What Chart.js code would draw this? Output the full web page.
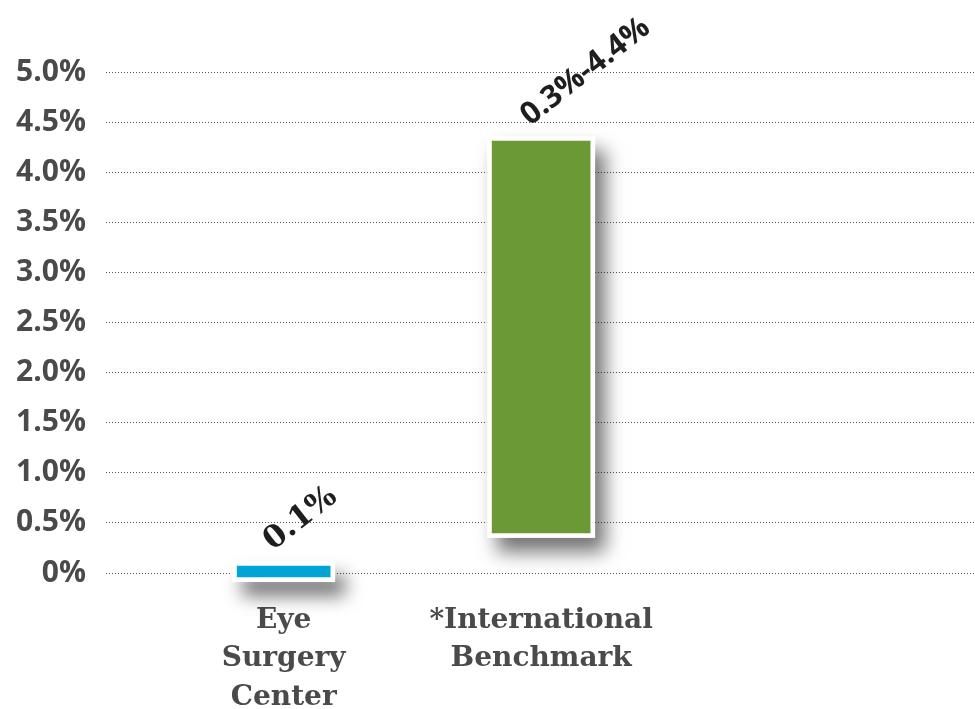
<!DOCTYPE html>
<html>
<head>
<meta charset="utf-8">
<script src="https://cdn.jsdelivr.net/npm/chart.js@4/dist/chart.umd.min.js"></script>
<style>
  html, body { margin: 0; padding: 0; background: #ffffff; }
  #wrap { width: 975px; height: 709px; }
</style>
</head>
<body>
<div id="wrap"><canvas id="c" width="975" height="709"></canvas></div>
<script>
// ---- data ----
const categories = [["Eye", "Surgery", "Center"], ["*International", "Benchmark"]];
const eyeRange = [-0.04, 0.07];          // % (floating bar, drawn as 0.1%)
const benchmarkRange = [0.40, 4.31];     // % (floating range bar)
const valueLabels = ["0.1%", "0.3%-4.4%"];
const yTickValues = [0, 0.5, 1, 1.5, 2, 2.5, 3, 3.5, 4, 4.5, 5];

const barColors = ["#00a5d5", "#6b9935"];

// shadow + white frame behind each bar
const frameShadow = {
  id: 'frameShadow',
  beforeDatasetsDraw(chart) {
    const ctx = chart.ctx;
    chart.data.datasets.forEach((ds, di) => {
      const meta = chart.getDatasetMeta(di);
      meta.data.forEach(el => {
        const p = el.getProps(['x', 'y', 'base', 'width'], true);
        const top = Math.min(p.y, p.base), bot = Math.max(p.y, p.base);
        const pad = 5;
        ctx.save();
        ctx.shadowColor = 'rgba(0,0,0,0.55)';
        ctx.shadowBlur = 18;
        ctx.shadowOffsetX = 10;
        ctx.shadowOffsetY = 14;
        ctx.fillStyle = '#ffffff';
        ctx.fillRect(p.x - p.width / 2 - pad, top - pad, p.width + 2 * pad, bot - top + 2 * pad);
        ctx.restore();
      });
    });
  }
};

// rotated value labels
const rotatedLabels = {
  id: 'rotatedLabels',
  afterDatasetsDraw(chart) {
    const ctx = chart.ctx;
    const fonts = ['bold 31px "DejaVu Serif"', 'bold 31px "Open Sans"'];
    chart.data.datasets.forEach((ds, di) => {
      const el = chart.getDatasetMeta(di).data[0];
      const p = el.getProps(['x', 'y', 'base'], true);
      const top = Math.min(p.y, p.base);
      ctx.save();
      ctx.translate(p.x - 11, top - 15);
      ctx.rotate(-38 * Math.PI / 180);
      ctx.font = fonts[di];
      ctx.fillStyle = '#1e1e1e';
      ctx.textAlign = 'left';
      ctx.textBaseline = 'alphabetic';
      ctx.fillText(valueLabels[di], 0, 0);
      ctx.restore();
    });
  }
};

new Chart(document.getElementById('c'), {
  type: 'bar',
  data: {
    datasets: [
      { data: [{ x: 0, y: eyeRange }], backgroundColor: barColors[0], barThickness: 93, grouped: false, clip: false, borderWidth: 0 },
      { data: [{ x: 1, y: benchmarkRange }], backgroundColor: barColors[1], barThickness: 98, grouped: false, clip: false, borderWidth: 0 }
    ]
  },
  options: {
    responsive: false,
    animation: false,
    layout: { padding: { top: 72, left: 0, right: 0, bottom: 0 } },
    plugins: { legend: { display: false }, tooltip: { enabled: false } },
    scales: {
      x: {
        type: 'linear',
        offset: false,
        min: -0.69,
        max: 2.685,
        grid: { display: false, drawTicks: false, offset: false },
        border: { display: false },
        afterBuildTicks: (axis) => { axis.ticks = categories.map((c, i) => ({ value: i })); },
        afterFit: (axis) => { axis.height = 136; },
        ticks: {
          autoSkip: false,
          maxRotation: 0,
          minRotation: 0,
          padding: 28,
          color: '#4a4a4a',
          font: { family: '"DejaVu Serif"', weight: 'bold', size: 28, lineHeight: 1.375 },
          callback: (v) => categories[v]
        }
      },
      y: {
        min: 0,
        max: 5,
        afterBuildTicks: (axis) => { axis.ticks = yTickValues.map(v => ({ value: v })); },
        afterFit: (axis) => { axis.width = 106; },
        grid: { color: '#555555', lineWidth: 1, drawTicks: false },
        border: { display: false, dash: [1, 2] },
        ticks: {
          padding: 20,
          color: '#4a4a4a',
          font: { family: '"Open Sans"', weight: 'bold', size: 30 },
          callback: (v) => v === 0 ? '0%' : v.toFixed(1) + '%'
        }
      }
    }
  },
  plugins: [frameShadow, rotatedLabels]
});
</script>
</body>
</html>
